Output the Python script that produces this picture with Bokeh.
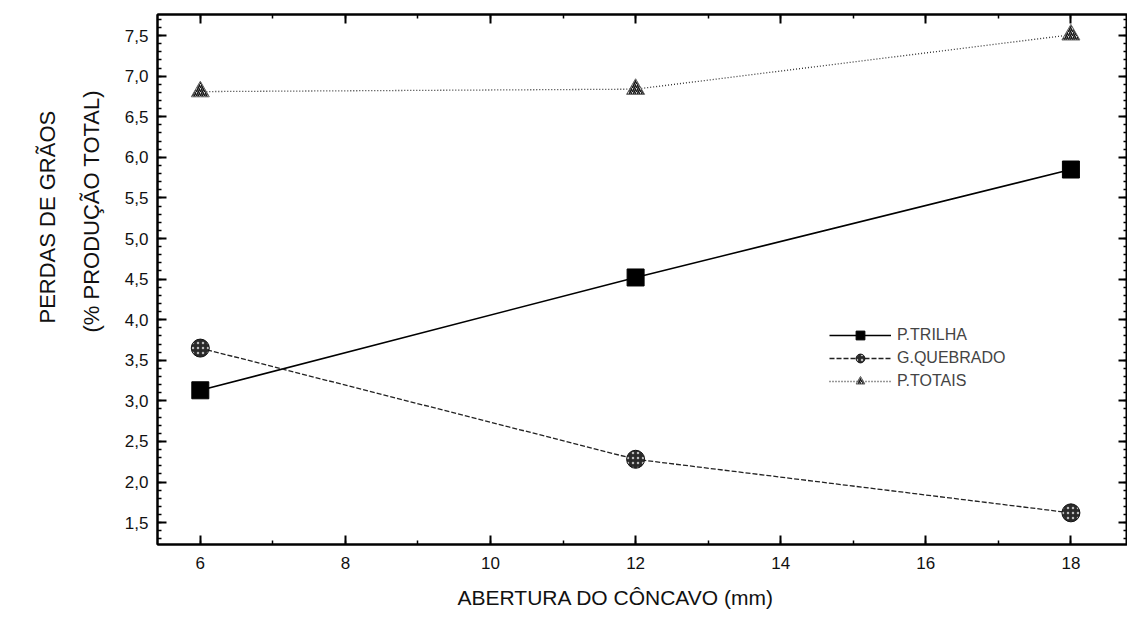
from bokeh.plotting import figure
from bokeh.models import (Range1d, LinearAxis, SingleIntervalTicker, CustomJSTickFormatter,
                          Legend, LegendItem, Title)
from bokeh.embed import file_html
from bokeh.resources import INLINE

abertura = [6, 12, 18]
p_trilha = [3.13, 4.52, 5.85]
g_quebrado = [3.65, 2.28, 1.62]
p_totais = [6.81, 6.84, 7.51]

x_label = "ABERTURA DO CÔNCAVO (mm)"
y_label_1 = "PERDAS DE GRÃOS"
y_label_2 = "(%  PRODUÇÃO TOTAL)"
names = ["P.TRILHA", "G.QUEBRADO", "P.TOTAIS"]

FONT = "Liberation Sans"

p = figure(width=1127, height=620, output_backend="svg", toolbar_location=None,
           x_range=Range1d(5.41, 18.78), y_range=Range1d(1.23, 7.76),
           min_border_left=157, min_border_right=0, min_border_top=14, min_border_bottom=0)
p.grid.visible = False
p.outline_line_color = "black"
p.outline_line_width = 2
p.background_fill_color = "white"
p.border_fill_color = "white"

fmt = CustomJSTickFormatter(code="return tick.toFixed(1).replace('.', ',');")
blank = CustomJSTickFormatter(code="return '';")

def style(ax, labels=True):
    ax.axis_line_width = 2
    ax.axis_line_color = "black"
    ax.major_tick_in = 9
    ax.major_tick_out = 0
    ax.minor_tick_in = 4
    ax.minor_tick_out = 0
    ax.major_tick_line_width = 2
    ax.minor_tick_line_width = 1.5
    ax.major_label_text_font = FONT
    ax.major_label_text_font_size = "17px"
    ax.major_label_text_color = "#111111"
    if not labels:
        ax.formatter = blank
        ax.major_label_standoff = 0
        ax.axis_label_standoff = 0
        ax.major_label_text_font_size = "0px"

xax = p.xaxis[0]
xax.ticker = SingleIntervalTicker(interval=2, num_minor_ticks=2)
style(xax)
xax.major_label_standoff = 12

yax = p.yaxis[0]
yax.ticker = SingleIntervalTicker(interval=0.5, num_minor_ticks=5)
yax.formatter = fmt
style(yax)
yax.major_label_standoff = 9

top = LinearAxis(ticker=SingleIntervalTicker(interval=2, num_minor_ticks=2))
style(top, labels=False)
p.add_layout(top, "above")
right = LinearAxis(ticker=SingleIntervalTicker(interval=0.5, num_minor_ticks=5))
style(right, labels=False)
p.add_layout(right, "right")

# axis titles (first added = closest to the axis)
p.add_layout(Title(text=y_label_2, align="left", offset=212, standoff=36,
                   text_font=FONT, text_font_size="22px", text_font_style="normal",
                   text_color="#111111"), "left")
p.add_layout(Title(text=y_label_1, align="left", offset=221, standoff=-3,
                   text_font=FONT, text_font_size="22px", text_font_style="normal",
                   text_color="#111111"), "left")
p.add_layout(Title(text=x_label, align="left", offset=300, standoff=24,
                   text_font=FONT, text_font_size="21px", text_font_style="normal",
                   text_color="#111111"), "below")

l1 = p.line(abertura, p_trilha, line_color="black", line_width=1.5)
m1 = p.scatter(abertura, p_trilha, marker="square", size=17, fill_color="black", line_color="black")
l2 = p.line(abertura, g_quebrado, line_color="#222222", line_width=1.3, line_dash="5 2")
m2 = p.scatter(abertura, g_quebrado, marker="circle", size=18, fill_color="#2a2a2a",
               line_color="#111111", hatch_pattern="dot", hatch_color="#bbbbbb", hatch_scale=5,
               hatch_weight=1)
l3 = p.line(abertura, p_totais, line_color="#333333", line_width=1.3, line_dash="1 2")
m3 = p.scatter(abertura, p_totais, marker="triangle", size=18, fill_color="#dddddd",
               line_color="#666666", hatch_pattern="/", hatch_color="#111111", hatch_scale=4,
               hatch_weight=1.5)

legend = Legend(items=[LegendItem(label=names[0], renderers=[l1, m1]),
                       LegendItem(label=names[1], renderers=[l2, m2]),
                       LegendItem(label=names[2], renderers=[l3, m3])],
                location=(672, 152), glyph_width=62, glyph_height=22, spacing=1,
                label_text_font=FONT, label_text_font_size="16px", label_standoff=6,
                border_line_color=None, background_fill_alpha=0, padding=4)
p.add_layout(legend, "center")

open("out.html", "w").write(file_html(p, INLINE))
